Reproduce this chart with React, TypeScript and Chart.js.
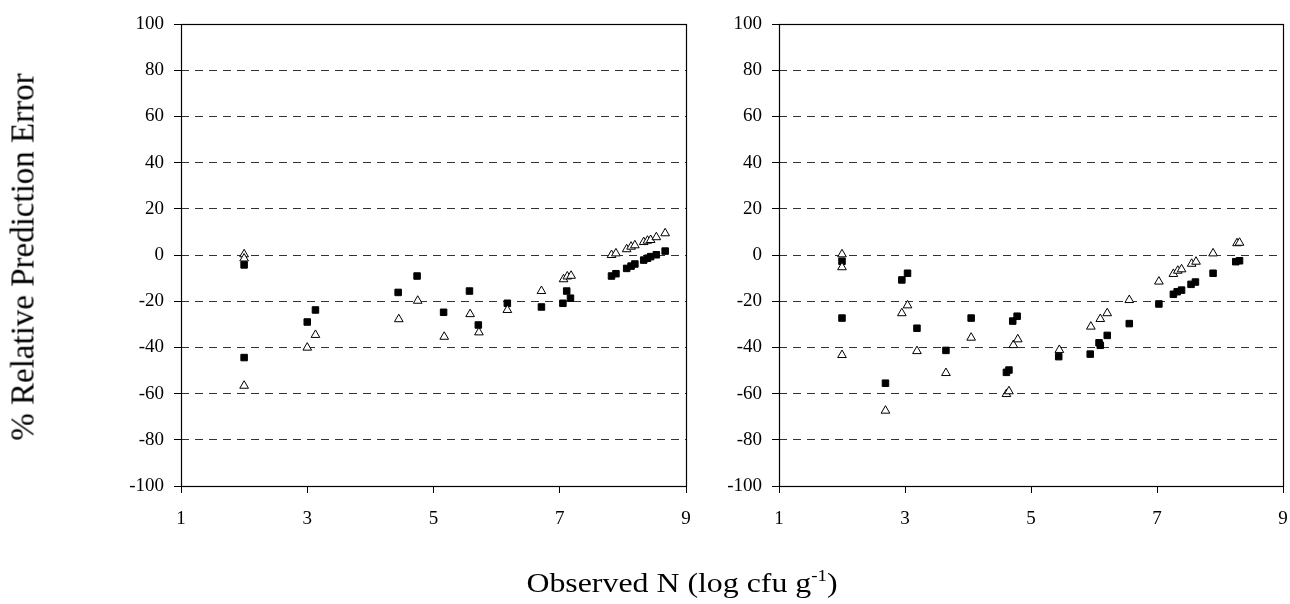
import React, { useEffect, useRef } from 'react';
import { Chart, registerables } from 'chart.js';

Chart.register(...registerables);

// Axis settings
const xMin = 1;
const xMax = 9;
const xStep = 2;
const yMin = -100;
const yMax = 100;
const yStep = 20;

// Left panel: filled squares [observed N, % error]
const leftSquares: [number, number][] = [
  [2.0, -4.3], [2.0, -44.4], [3.0, -29.0], [3.13, -23.8], [4.44, -16.2], [4.74, -9.1],
  [5.16, -24.8], [5.57, -15.6], [5.71, -30.3], [6.17, -20.9], [6.71, -22.5], [7.05, -20.9],
  [7.11, -15.6], [7.17, -18.7], [7.82, -9.1], [7.89, -8.1], [8.06, -5.8], [8.13, -4.8],
  [8.19, -3.9], [8.33, -2.2], [8.39, -1.4], [8.44, -0.7], [8.53, 0.1], [8.67, 1.7],
];

// Left panel: open triangles
const leftTriangles: [number, number][] = [
  [2.0, 0.3], [2.0, -1.5], [2.0, -56.6], [3.0, -40.1], [3.13, -34.6], [4.45, -27.8],
  [4.75, -19.8], [5.17, -35.4], [5.58, -25.6], [5.72, -33.5], [6.17, -23.8], [6.71, -15.6],
  [7.06, -10.5], [7.12, -9.3], [7.18, -9.0], [7.82, 0.0], [7.89, 0.7], [8.06, 2.5],
  [8.13, 3.6], [8.19, 4.2], [8.33, 5.6], [8.39, 6.2], [8.44, 6.5], [8.53, 7.7], [8.67, 9.4],
];

// Right panel: filled squares
const rightSquares: [number, number][] = [
  [2.0, -2.7], [2.0, -27.3], [2.69, -55.5], [2.95, -10.8], [3.04, -7.9], [3.19, -31.7],
  [3.65, -41.3], [4.05, -27.3], [4.61, -50.8], [4.65, -49.8], [4.71, -28.6], [4.78, -26.5],
  [5.44, -44.0], [5.94, -42.9], [6.08, -38.0], [6.10, -39.1], [6.21, -34.8], [6.56, -29.7],
  [7.03, -21.2], [7.26, -17.0], [7.32, -15.9], [7.39, -15.2], [7.54, -12.7], [7.61, -11.7],
  [7.89, -7.9], [8.25, -2.9], [8.31, -2.5],
];

// Right panel: open triangles
const rightTriangles: [number, number][] = [
  [2.0, 0.3], [2.0, -5.3], [2.0, -43.3], [2.69, -67.4], [2.95, -25.2], [3.04, -21.8],
  [3.19, -41.6], [3.65, -51.1], [4.05, -35.8], [4.61, -60.2], [4.65, -59.0], [4.72, -39.0],
  [4.79, -36.5], [5.45, -41.1], [5.95, -31.0], [6.10, -27.7], [6.21, -25.2], [6.56, -19.5],
  [7.03, -11.5], [7.26, -8.2], [7.33, -6.8], [7.39, -6.2], [7.55, -3.8], [7.62, -2.9],
  [7.89, 0.7], [8.27, 5.1], [8.31, 5.3],
];

const yTitle = '% Relative Prediction Error';
const xTitle = 'Observed N (log cfu g';
const xTitleSup = '-1';

const FONT = '"Liberation Serif", "Times New Roman", serif';

const framePlugin = {
  id: 'frame',
  beforeDatasetsDraw(chart: any) {
    const { ctx, chartArea } = chart;
    const l = Math.round(chartArea.left) + 0.5;
    const t = Math.round(chartArea.top) + 0.5;
    const r = Math.round(chartArea.right) + 0.5;
    const b = Math.round(chartArea.bottom) + 0.5;
    ctx.save();
    ctx.strokeStyle = '#000';
    ctx.lineWidth = 1.2;
    ctx.setLineDash([]);
    ctx.strokeRect(l, t, r - l, b - t);
    ctx.restore();
  },
};

type PanelProps = {
  squares: [number, number][];
  triangles: [number, number][];
  left: number;
  width: number;
  yAxisWidth: number;
  padRight: number;
};

function Panel({ squares, triangles, left, width, yAxisWidth, padRight }: PanelProps) {
  const ref = useRef<HTMLCanvasElement | null>(null);
  useEffect(() => {
    if (!ref.current) return;
    const chart = new Chart(ref.current, {
      type: 'scatter',
      data: {
        datasets: [
          {
            label: 'triangles',
            data: triangles.map(([x, y]) => ({ x, y })),
            pointStyle: 'triangle',
            pointRadius: 5,
            backgroundColor: '#fff',
            borderColor: '#000',
            borderWidth: 1,
          },
          {
            label: 'squares',
            data: squares.map(([x, y]) => ({ x, y })),
            pointStyle: 'rect',
            pointRadius: 4.6,
            backgroundColor: '#000',
            borderColor: '#000',
            borderWidth: 1,
          },
        ],
      },
      options: {
        responsive: false,
        animation: false,
        devicePixelRatio: 1,
        layout: { padding: { left: 0, top: 24, right: padRight, bottom: 0 } },
        plugins: {
          legend: { display: false },
          tooltip: { enabled: false },
        },
        scales: {
          x: {
            type: 'linear',
            min: xMin,
            max: xMax,
            afterFit: (s: any) => {
              s.height = 118;
              s.paddingLeft = 0;
              s.paddingRight = 0;
            },
            border: { display: false },
            grid: {
              display: true,
              drawOnChartArea: false,
              drawTicks: true,
              tickLength: 7,
              tickColor: '#000',
              color: '#000',
            },
            ticks: {
              stepSize: xStep,
              padding: 15,
              color: '#000',
              font: { family: FONT, size: 19 },
              maxRotation: 0,
            },
          },
          y: {
            type: 'linear',
            min: yMin,
            max: yMax,
            afterFit: (s: any) => {
              s.width = yAxisWidth;
              s.paddingTop = 0;
              s.paddingBottom = 0;
            },
            border: { display: false, dash: [8, 6] },
            grid: {
              display: true,
              drawOnChartArea: true,
              drawTicks: true,
              tickLength: 7,
              tickColor: '#000',
              color: (c: any) =>
                c.tick && Math.abs(c.tick.value) === 100 ? 'rgba(0,0,0,0)' : '#333',
              lineWidth: 1,
            },
            ticks: {
              stepSize: yStep,
              padding: 10,
              color: '#000',
              font: { family: FONT, size: 19 },
            },
          },
        },
      },
      plugins: [framePlugin],
    });
    return () => chart.destroy();
  }, []);
  return (
    <canvas
      ref={ref}
      width={width}
      height={604}
      style={{ position: 'absolute', left, top: 0, width, height: 604 }}
    />
  );
}

export default function App() {
  return (
    <div
      style={{
        position: 'fixed',
        left: 0,
        top: 0,
        width: 1290,
        height: 604,
        background: '#fff',
        overflow: 'hidden',
      }}
    >
      <Panel squares={leftSquares} triangles={leftTriangles} left={0} width={700} yAxisWidth={181} padRight={14} />
      <Panel squares={rightSquares} triangles={rightTriangles} left={700} width={590} yAxisWidth={79} padRight={7} />
      <div
        style={{
          position: 'absolute',
          left: 23,
          top: 257,
          transform: 'translate(-50%, -50%) rotate(-90deg)',
          whiteSpace: 'nowrap',
          fontFamily: FONT,
          fontSize: 33,
          lineHeight: '33px',
          color: '#000',
        }}
      >
        {yTitle}
      </div>
      <div
        style={{
          position: 'absolute',
          left: 682,
          top: 570,
          transform: 'translateX(-50%) scaleX(1.18)',
          whiteSpace: 'nowrap',
          fontFamily: FONT,
          fontSize: 27,
          lineHeight: '27px',
          color: '#000',
        }}
      >
        {xTitle}
        <span style={{ fontSize: 16, position: 'relative', top: -11 }}>{xTitleSup}</span>)
      </div>
    </div>
  );
}
